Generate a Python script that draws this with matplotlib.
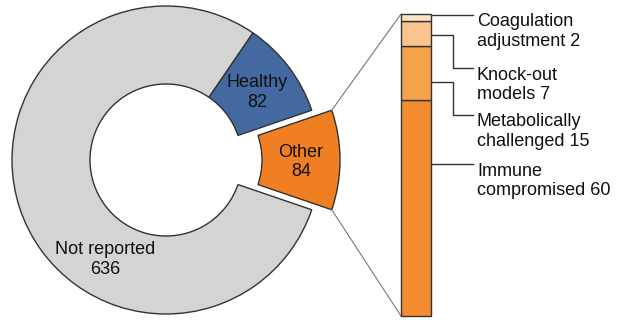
import numpy as np
import matplotlib.pyplot as plt
from matplotlib.patches import Wedge

plt.rcParams['font.family'] = ['Liberation Sans', 'DejaVu Sans']

# donut data (first slice is the exploded one)
donut_labels = ["Other", "Healthy", "Not reported"]
donut_values = [84, 82, 636]
donut_colors = ["#EF7F22", "#4468A0", "#D4D4D4"]

# breakdown of "Other", stacked from the bottom
sub_labels = ["Immune\ncompromised", "Metabolically\nchallenged", "Knock-out\nmodels", "Coagulation\nadjustment"]
sub_values = [60, 15, 7, 2]
sub_colors = ["#F28C2E", "#F5A34B", "#F9C48E", "#FDE3C5"]

W, H = 617, 320
EDGE = "#333333"
FS = 13

fig = plt.figure(figsize=(W / 100, H / 100), dpi=100)
ax = fig.add_axes([0, 0, 1, 1])
ax.set_xlim(0, W)
ax.set_ylim(0, H)
ax.axis("off")

# donut
cx, cy = 166, 160
r_out, r_in = 154, 76
explode = 20
label_angle = [None, None, 238]

total = sum(donut_values)
theta1 = -360 * donut_values[0] / total / 2
other_corners = None
for i in range(len(donut_values)):
    theta2 = theta1 + 360 * donut_values[i] / total
    mid = np.radians((theta1 + theta2) / 2)
    x0, y0 = cx, cy
    if i == 0:
        x0 += explode * np.cos(mid)
        y0 += explode * np.sin(mid)
        other_corners = [
            (x0 + r_out * np.cos(np.radians(theta1)), y0 + r_out * np.sin(np.radians(theta1))),
            (x0 + r_out * np.cos(np.radians(theta2)), y0 + r_out * np.sin(np.radians(theta2))),
        ]
    w = Wedge((x0, y0), r_out, theta1, theta2, width=r_out - r_in,
              facecolor=donut_colors[i], edgecolor=EDGE, linewidth=1)
    ax.add_patch(w)
    a = mid if label_angle[i] is None else np.radians(label_angle[i])
    rl = (r_out + r_in) / 2
    ax.text(x0 + rl * np.cos(a), y0 + rl * np.sin(a) - 2,
            donut_labels[i] + "\n" + str(donut_values[i]),
            ha="center", va="center", fontsize=FS, linespacing=1.2, color="#111111")
    theta1 = theta2

# stacked bar for "Other"
bar_left, bar_top, bar_bottom, bar_w = 401, 14, 316, 30
axb = fig.add_axes([bar_left / W, (H - bar_bottom) / H, bar_w / W, (bar_bottom - bar_top) / H])
axb.set_xlim(0, 1)
axb.set_ylim(0, sum(sub_values))
axb.axis("off")
bottom = 0
for i in range(len(sub_values)):
    axb.bar(0.5, sub_values[i], width=1, bottom=bottom, color=sub_colors[i],
            edgecolor=EDGE, linewidth=1, clip_on=False)
    bottom += sub_values[i]

# grey lines from the exploded slice to the bar
to_ax = ax.transData.inverted()
bar_bl = to_ax.transform(axb.transData.transform((0, 0)))
bar_tl = to_ax.transform(axb.transData.transform((0, sum(sub_values))))
ax.plot([other_corners[0][0], bar_bl[0]], [other_corners[0][1], bar_bl[1]], color="#777777", lw=0.8)
ax.plot([other_corners[1][0], bar_tl[0]], [other_corners[1][1], bar_tl[1]], color="#777777", lw=0.8)

# leader lines and labels (pixel rows from top)
lead_start = [164, 82, 35, 15]
lead_end = [164, 115, 68, 15]
elbow_x, end_x, text_x = 453, 473, 477
bar_right = bar_left + bar_w
for i in range(len(sub_values)):
    ys, ye = H - lead_start[i], H - lead_end[i]
    if ys == ye:
        ax.plot([bar_right, end_x], [ys, ye], color=EDGE, lw=1)
    else:
        ax.plot([bar_right, elbow_x, elbow_x, end_x], [ys, ys, ye, ye], color=EDGE, lw=1)
    ax.text(text_x, ye + 1.5, sub_labels[i] + " " + str(sub_values[i]),
            ha="left", va="top", fontsize=FS, linespacing=1.2, color="#111111")

fig.savefig("out.png", dpi=100)
